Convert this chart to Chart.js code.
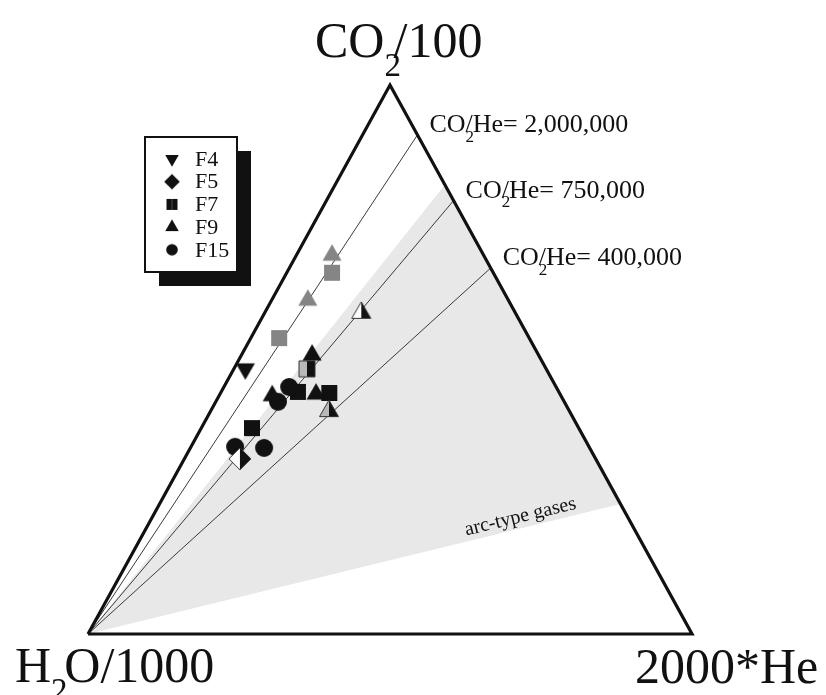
<!DOCTYPE html>
<html>
<head>
<meta charset="utf-8">
<script src="https://cdn.jsdelivr.net/npm/chart.js@4/dist/chart.umd.min.js"></script>
<style>
  html, body { margin: 0; padding: 0; background: #ffffff; }
  canvas { display: block; }
</style>
</head>
<body>
<canvas id="ternary" width="826" height="695"></canvas>
<script>
// Gas compositions, as percent of (CO2/100 + H2O/1000 + 2000*He)
const groupNames = ['F4', 'F5', 'F7', 'F9', 'F15'];

const f4Co2 = [48.3];
const f4He  = [1.9];
const f4H2o = [49.8];

const f5Co2 = [31.9];
const f5He  = [9.2];
const f5H2o = [58.9];

const f7Co2 = [65.8, 53.9, 48.3, 44.1, 43.9, 37.5];
const f7He  = [7.5, 4.7, 12.1, 12.7, 18.0, 8.4];
const f7H2o = [26.7, 41.4, 39.6, 43.2, 38.1, 54.1];

const f9Co2 = [69.0, 60.8, 58.5, 50.8, 43.7, 43.4, 40.6];
const f9He  = [5.9, 6.0, 16.0, 11.7, 15.9, 8.8, 19.6];
const f9H2o = [25.1, 33.2, 25.5, 37.5, 40.4, 47.8, 39.8];

const f15Co2 = [45.0, 42.3, 34.1, 33.9];
const f15He  = [10.8, 10.3, 7.3, 12.2];
const f15H2o = [44.2, 47.4, 58.6, 53.9];

// Molar CO2/He reference ratios, drawn as lines out of the H2O apex
const ratioValues = [2000000, 750000, 400000];
const ratioLabels = ['2,000,000', '750,000', '400,000'];
// CO2/He range of the shaded arc-type gas field
const arcRange = [62000, 900000];

// ---- styles ----
const BLACK = '#111111', GRAY = '#858585', LIGHT = '#b9b9b9', WHITE = '#ffffff';
const SERIF = '"Liberation Serif", "DejaVu Serif", serif';

// fill of each marker: [left half, right half]
const f4Fills  = [[BLACK, BLACK]];
const f5Fills  = [[WHITE, BLACK]];
const f7Fills  = [[GRAY, GRAY], [GRAY, GRAY], [LIGHT, BLACK], [BLACK, BLACK], [BLACK, BLACK], [BLACK, BLACK]];
const f9Fills  = [[GRAY, GRAY], [GRAY, GRAY], [WHITE, BLACK], [BLACK, BLACK], [BLACK, BLACK], [BLACK, BLACK], [LIGHT, BLACK]];
const f15Fills = [[BLACK, BLACK], [BLACK, BLACK], [BLACK, BLACK], [BLACK, BLACK]];

const shapes = { F4: 'triangleDown', F5: 'diamond', F7: 'square', F9: 'triangle', F15: 'circle' };
const plotSize   = { triangle: 11, triangleDown: 11, diamond: 11, square: 8, circle: 9 };
const legendSize = { triangle: 7.8, triangleDown: 7.8, diamond: 7.8, square: 5.4, circle: 5.8 };

// ternary -> cartesian (unit base, apex at x = 0.5, y = 1)
function ternary(co2, he, h2o) {
  const s = co2 + he + h2o;
  const c = co2 / s, h = he / s;
  return { x: h + c / 2, y: c };
}
// plotted CO2/100 : 2000*He ratio for a molar CO2/He ratio
function ratioEdgePoint(r) {
  return ternary(r / 200000, 1, 0);
}
const H2O_APEX = ternary(0, 0, 1);

function tracePath(g, shape, cx, cy, r) {
  if (shape === 'triangle') {
    g.moveTo(cx, cy - r);
    g.lineTo(cx + r * 0.866, cy + r / 2);
    g.lineTo(cx - r * 0.866, cy + r / 2);
    g.closePath();
  } else if (shape === 'triangleDown') {
    g.moveTo(cx, cy + r);
    g.lineTo(cx + r * 0.866, cy - r / 2);
    g.lineTo(cx - r * 0.866, cy - r / 2);
    g.closePath();
  } else if (shape === 'diamond') {
    g.moveTo(cx, cy - r);
    g.lineTo(cx + r, cy);
    g.lineTo(cx, cy + r);
    g.lineTo(cx - r, cy);
    g.closePath();
  } else if (shape === 'square') {
    g.rect(cx - r, cy - r, 2 * r, 2 * r);
  } else {
    g.arc(cx, cy, r, 0, Math.PI * 2);
  }
}

function markerCanvas(shape, r, left, right) {
  const size = Math.ceil(2 * r + 6);
  const cv = document.createElement('canvas');
  cv.width = size; cv.height = size;
  const g = cv.getContext('2d');
  const c = size / 2;
  g.beginPath();
  tracePath(g, shape, c, c, r);
  g.save();
  g.clip();
  g.fillStyle = left;  g.fillRect(0, 0, c, size);
  g.fillStyle = right; g.fillRect(c, 0, size - c, size);
  g.restore();
  if (left !== right) {
    g.lineWidth = 1;
    g.strokeStyle = '#333333';
    g.stroke();
  }
  return cv;
}

const groups = [
  { name: 'F4',  co2: f4Co2,  he: f4He,  h2o: f4H2o,  fills: f4Fills,  order: 0 },
  { name: 'F5',  co2: f5Co2,  he: f5He,  h2o: f5H2o,  fills: f5Fills,  order: 1 },
  { name: 'F7',  co2: f7Co2,  he: f7He,  h2o: f7H2o,  fills: f7Fills,  order: 4 },
  { name: 'F9',  co2: f9Co2,  he: f9He,  h2o: f9H2o,  fills: f9Fills,  order: 2 },
  { name: 'F15', co2: f15Co2, he: f15He, h2o: f15H2o, fills: f15Fills, order: 3 }
];

const pointSets = groups.map(gr => {
  const shape = shapes[gr.name];
  return {
    label: gr.name,
    order: gr.order,
    data: gr.co2.map((c, i) => ternary(c, gr.he[i], gr.h2o[i])),
    pointStyle: gr.fills.map(f => markerCanvas(shape, plotSize[shape], f[0], f[1])),
    pointRadius: 8,
    showLine: false,
    clip: false
  };
});

const frameSet = {
  label: 'frame',
  order: 8,
  data: [ternary(0, 0, 1), ternary(0, 1, 0), ternary(1, 0, 0), ternary(0, 0, 1)],
  showLine: true,
  borderColor: '#111111',
  borderWidth: 3.2,
  borderJoinStyle: 'miter',
  pointRadius: 0,
  clip: false
};

const ratioSets = ratioValues.map(r => ({
  label: 'CO2/He ' + r,
  order: 9,
  data: [H2O_APEX, ratioEdgePoint(r)],
  showLine: true,
  borderColor: '#3a3a3a',
  borderWidth: 1,
  pointRadius: 0,
  clip: false
}));

function chemText(ctx, x, y, pieces, size) {
  let cx = x;
  for (const [t, sub, adv] of pieces) {
    if (sub) {
      ctx.font = Math.round(size * 0.66) + 'px ' + SERIF;
      ctx.fillText(t, cx, y + size * 0.38);
      cx += ctx.measureText(t).width * adv;
    } else {
      ctx.font = size + 'px ' + SERIF;
      ctx.fillText(t, cx, y);
      cx += ctx.measureText(t).width;
    }
  }
}

const arcField = {
  id: 'arcField',
  beforeDatasetsDraw(chart) {
    const { ctx, scales: { x, y } } = chart;
    const a = H2O_APEX;
    const p1 = ratioEdgePoint(arcRange[1]);
    const p2 = ratioEdgePoint(arcRange[0]);
    ctx.save();
    ctx.fillStyle = '#e8e8e8';
    ctx.beginPath();
    ctx.moveTo(x.getPixelForValue(a.x), y.getPixelForValue(a.y));
    ctx.lineTo(x.getPixelForValue(p1.x), y.getPixelForValue(p1.y));
    ctx.lineTo(x.getPixelForValue(p2.x), y.getPixelForValue(p2.y));
    ctx.closePath();
    ctx.fill();
    ctx.restore();
  }
};

const annotations = {
  id: 'annotations',
  afterDatasetsDraw(chart) {
    const { ctx, scales: { x, y } } = chart;
    const px = p => ({ x: x.getPixelForValue(p.x), y: y.getPixelForValue(p.y) });
    ctx.save();
    ctx.fillStyle = '#111111';
    ctx.textBaseline = 'alphabetic';
    ctx.textAlign = 'left';

    // ratio line labels, just outside the right edge
    ratioValues.forEach((r, i) => {
      const e = px(ratioEdgePoint(r));
      chemText(ctx, e.x + 12, e.y - 3,
        [['CO', false], ['2', true, 0], ['/He= ' + ratioLabels[i], false]], 26);
    });

    // arc-type field label along its lower boundary
    const a = px(H2O_APEX);
    const b = px(ratioEdgePoint(arcRange[0]));
    const t = 0.817;
    ctx.save();
    ctx.translate(a.x + (b.x - a.x) * t, a.y + (b.y - a.y) * t);
    ctx.rotate(Math.atan2(b.y - a.y, b.x - a.x));
    ctx.textAlign = 'center';
    ctx.font = '20px ' + SERIF;
    ctx.fillText('arc-type gases', 0, -6);
    ctx.restore();

    // apex labels
    const top = px(ternary(1, 0, 0));
    const bl = px(ternary(0, 0, 1));
    const br = px(ternary(0, 1, 0));
    chemText(ctx, top.x - 75, top.y - 28,
      [['CO', false], ['2', true, 0.55], ['/100', false]], 50);
    chemText(ctx, bl.x - 73, bl.y + 48,
      [['H', false], ['2', true, 0.8], ['O/1000', false]], 50);
    ctx.font = '50px ' + SERIF;
    ctx.fillText('2000*He', br.x - 57, br.y + 49);
    ctx.restore();
  }
};

const legendBox = {
  id: 'legendBox',
  afterDraw(chart) {
    const ctx = chart.ctx;
    const bx = 145, by = 137, bw = 92, bh = 135, sh = 14;
    ctx.save();
    ctx.fillStyle = '#111111';
    ctx.fillRect(bx + sh, by + sh, bw, bh);
    ctx.fillStyle = '#ffffff';
    ctx.fillRect(bx, by, bw, bh);
    ctx.lineWidth = 2;
    ctx.strokeStyle = '#111111';
    ctx.strokeRect(bx, by, bw, bh);
    ctx.fillStyle = '#111111';
    ctx.font = '22px ' + SERIF;
    ctx.textBaseline = 'middle';
    ctx.textAlign = 'left';
    groupNames.forEach((n, i) => {
      const yy = by + 22 + i * 22.7;
      const shape = shapes[n];
      const m = markerCanvas(shape, legendSize[shape], BLACK, BLACK);
      ctx.drawImage(m, bx + 27 - m.width / 2, yy - m.height / 2);
      ctx.fillText(n, bx + 50, yy + 1);
    });
    ctx.restore();
  }
};

new Chart(document.getElementById('ternary'), {
  type: 'scatter',
  data: { datasets: [...pointSets, frameSet, ...ratioSets] },
  options: {
    responsive: false,
    animation: false,
    events: [],
    layout: { padding: { left: 88, right: 134, top: 85, bottom: 61 } },
    scales: {
      x: { type: 'linear', min: 0, max: 1, display: false },
      y: { type: 'linear', min: 0, max: 1, display: false }
    },
    plugins: { legend: { display: false }, tooltip: { enabled: false } }
  },
  plugins: [arcField, annotations, legendBox]
});
</script>
</body>
</html>
